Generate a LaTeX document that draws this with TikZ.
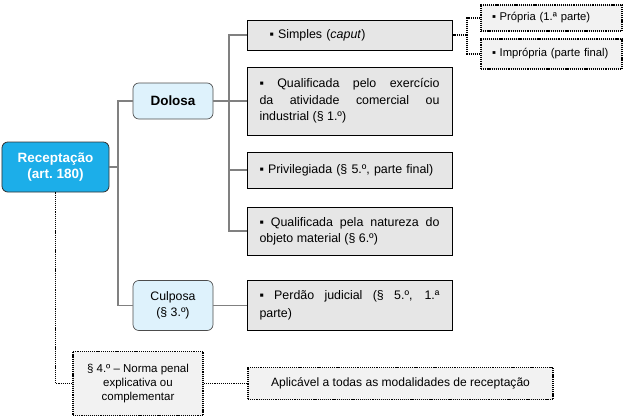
\documentclass[tikz,border=0pt]{standalone}
\usepackage{fontspec}
\setmainfont{Liberation Sans}
\usetikzlibrary{positioning}
\definecolor{reccyan}{RGB}{28,174,233}
\definecolor{dolblue}{RGB}{222,242,252}
\definecolor{boxgray}{RGB}{230,230,230}
\definecolor{notegray}{RGB}{242,242,242}
\definecolor{linegray}{RGB}{128,128,128}

\begin{document}
\begin{tikzpicture}[
  x=0.03cm, y=-0.03cm,
  font=\fontsize{10.6}{14}\selectfont,
  root/.style={draw=black!80, line width=0.7pt, rounded corners=5pt,
    fill=reccyan, text=white, align=center, inner sep=2pt,
    font=\fontsize{11.5}{14}\selectfont\bfseries,
    minimum width=3.21cm, minimum height=1.5cm},
  kind/.style={draw=black!70, line width=0.6pt, rounded corners=5pt,
    fill=dolblue, align=center, inner sep=2pt, minimum width=2.4cm},
  item/.style={draw=black, line width=0.6pt, fill=boxgray,
    text width=5.4cm, inner xsep=0.375cm, align=justify},
  note/.style={draw=black, line width=1.5pt,
    dash pattern=on 1pt off 0.8pt, fill=notegray},
  tree/.style={draw=linegray, line width=1pt},
  dots/.style={draw=black, line width=1.4pt,
    dash pattern=on 1pt off 0.8pt}]

\useasboundingbox (0,0) rectangle (625,419);

% crime and its two forms
\node[root] (rec) at (55.5,167) {Receptação\\(art.\ 180)};
\node[kind, minimum height=1.08cm,
  font=\fontsize{11.5}{14}\selectfont\bfseries] (dol) at (173,101) {Dolosa};
\node[kind, minimum height=1.5cm,
  font=\fontsize{10.5}{13.5}\selectfont] (cul) at (173,305.5) {Culposa\\(§ 3.º)};

% modalities
\node[item, minimum height=0.9cm, align=left] (simp) at (349.5,35)
  {\hspace*{0.3cm}▪ Simples (\textit{caput})};
\node[item, minimum height=2.04cm] (qual) at (349.5,101)
  {▪ Qualificada pelo exercício\linebreak da atividade comercial ou\linebreak industrial (§ 1.º)};
\node[item, minimum height=1.08cm, align=left] (priv) at (349.5,170)
  {▪ Privilegiada (§ 5.º, parte final)};
\node[item, minimum height=1.44cm] (natu) at (349.5,231)
  {▪ Qualificada pela natureza do\linebreak objeto material (§ 6.º)};
\node[item, minimum height=1.5cm,
  font=\fontsize{10.6}{15.5}\selectfont] (perd) at (349.5,305.5)
  {▪ Perdão judicial (§ 5.º, 1.ª\linebreak parte)};

% simple form split
\node[note, minimum width=4.23cm, minimum height=0.8cm, text width=3.57cm,
  inner xsep=0.33cm, align=left, font=\fontsize{9.6}{11}\selectfont] (prop)
  at (551.5,18) {▪ Própria (1.ª parte)};
\node[note, minimum width=4.23cm, minimum height=0.92cm, text width=3.57cm,
  inner xsep=0.33cm, align=left, font=\fontsize{9.6}{11}\selectfont] (impr)
  at (551.5,54) {▪ Imprópria (parte final)};

% paragraph 4
\node[note, minimum width=3.9cm, minimum height=1.92cm, align=center,
  font=\fontsize{9.8}{12}\selectfont] (norm) at (138,383.5)
  {§ 4.º – Norma penal\\explicativa ou\\complementar};
\node[note, minimum width=9.15cm, minimum height=0.96cm,
  font=\fontsize{10.3}{12}\selectfont] (apl)
  at (400.5,383.5) {Aplicável a todas as modalidades de receptação};

% connectors
\coordinate (trunk) at (118,0);
\coordinate (branch) at (229,0);
\coordinate (split) at (467,0);
\draw[tree] (rec.east) -- (rec.east -| trunk);
\draw[tree] (dol.west) -| (trunk |- rec.east) |- (cul.west);
\draw[tree] (simp.west) -| (branch |- natu.west) -- (natu.west);
\draw[tree] (dol.east) -- (qual.west);
\draw[tree] (priv.west) -- (priv.west -| branch);
\draw[tree] (cul.east) -- (perd.west);
\draw[dots] (simp.east) -- (simp.east -| split);
\draw[dots] (prop.west) -| (split |- impr.west) -- (impr.west);
\draw[dots] (rec.south) |- (norm.west);
\draw[dots] (norm.east) -- (apl.west);
\end{tikzpicture}
\end{document}
